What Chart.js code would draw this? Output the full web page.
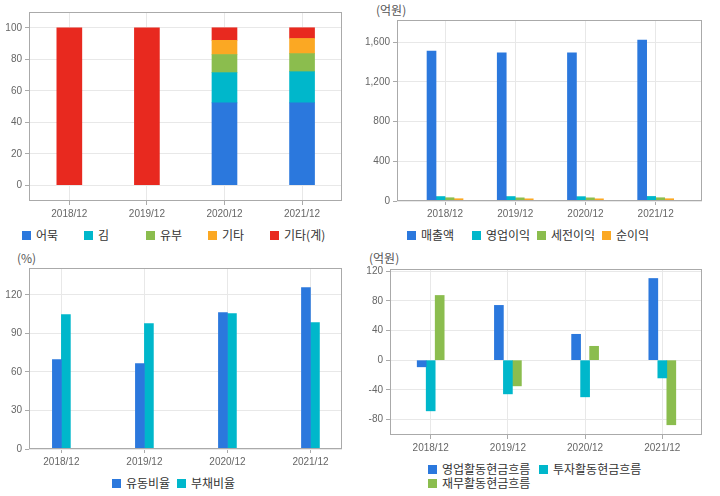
<!DOCTYPE html>
<html>
<head>
<meta charset="utf-8">
<script src="https://cdn.jsdelivr.net/npm/chart.js@4/dist/chart.umd.min.js"></script>
<style>
	body { margin: 0; background: #fff; width: 720px; height: 496px; position: relative; overflow: hidden; font-family: 'Noto Sans CJK KR', sans-serif; }
	canvas { position: absolute; }
	.unit { position: absolute; font-size: 12px; color: #555; line-height: 14px; }
	.legend { position: absolute; display: flex; flex-wrap: wrap; font-size: 12px; color: #333; line-height: 14px; }
	.legend span.item { display: flex; align-items: center; white-space: nowrap; }
	.legend i { display: inline-block; width: 9px; height: 9px; margin-right: 5px; }
</style>
</head>
<body>
<canvas id="mixChart" width="360" height="225" style="left:0;top:0"></canvas>
<div class="legend" id="mixLegend" style="left:22px;top:228px"></div>

<div class="unit" style="left:376px;top:3px">(억원)</div>
<canvas id="incomeChart" width="360" height="225" style="left:360px;top:0"></canvas>
<div class="legend" id="incomeLegend" style="left:407px;top:228px"></div>

<div class="unit" style="left:17px;top:251px">(%)</div>
<canvas id="ratioChart" width="360" height="225" style="left:0;top:248px"></canvas>
<div class="legend" id="ratioLegend" style="left:112px;top:476px"></div>

<div class="unit" style="left:369px;top:251px">(억원)</div>
<canvas id="cashChart" width="360" height="210" style="left:360px;top:248px"></canvas>
<div class="legend" id="cashLegend" style="left:428px;top:462px;width:224px"></div>

<script>
const periods = ['2018/12', '2019/12', '2020/12', '2021/12'];

// 제품별 매출 비중 (%)
const fishCake = [null, null, 52.3, 52.3];
const laver = [null, null, 19.2, 19.8];
const friedTofu = [null, null, 11.5, 11.5];
const others = [null, null, 9.0, 9.6];
const othersTotal = [100, 100, 8.0, 6.8];
const mixTicks = [0, 20, 40, 60, 80, 100];

// 손익 (억원)
const sales = [1512, 1495, 1495, 1623];
const operatingProfit = [45, 45, 44, 46];
const pretaxProfit = [33, 32, 32, 33];
const netProfit = [23, 22, 22, 23];
const incomeTicks = [0, 400, 800, 1200, 1600];

// 안정성 (%)
const currentRatio = [69.6, 66.5, 106.2, 125.8];
const debtRatio = [104.7, 97.7, 105.5, 98.5];
const ratioTicks = [0, 30, 60, 90, 120];

// 현금흐름 (억원)
const operatingCash = [-9, 73.9, 34.9, 110.2];
const investingCash = [-68.4, -45.5, -49.5, -24];
const financingCash = [87.3, -34.7, 18.7, -87.2];
const cashTicks = [-80, -40, 0, 40, 80, 120];

const colors = {
	blue: '#2b78dd',
	cyan: '#00b7cb',
	green: '#8bbd4e',
	orange: '#fba823',
	red: '#e8291f',
};

const tickFont = { family: "'Liberation Sans', Arial, sans-serif", size: 10 };
const tickColor = '#666';

const boxBorder = {
	id: 'boxBorder',
	afterDatasetsDraw(chart) {
		const { ctx, chartArea: a } = chart;
		ctx.save();
		ctx.strokeStyle = '#aaa';
		ctx.lineWidth = 1;
		ctx.strokeRect(Math.round(a.left) + 0.5, Math.round(a.top) + 0.5, Math.round(a.right - a.left) - 1, Math.round(a.bottom - a.top) - 1);
		ctx.restore();
	},
};

const toPoints = (values) => values.map((y, x) => ({ x, y }));

const renderLegend = (id, items, itemWidth) => {
	document.getElementById(id).innerHTML = items.map(([label, color]) => `
		<span class="item" style="width:${itemWidth}px"><i style="background:${color}"></i>${label}</span>
	`).join('');
};

const buildChart = (canvasId, datasets, opts) => {
	return new Chart(document.getElementById(canvasId), {
		type: 'bar',
		data: {
			datasets: datasets.map((set) => ({ ...set, data: toPoints(set.data) })),
		},
		plugins: [boxBorder],
		options: {
			responsive: false,
			animation: false,
			layout: { padding: { top: opts.top, right: 18, left: 0, bottom: 0 } },
			plugins: { legend: { display: false }, tooltip: { enabled: false } },
			datasets: { bar: { barThickness: opts.thickness, borderWidth: 0 } },
			scales: {
				x: {
					type: 'linear',
					stacked: !!opts.stacked,
					offset: false,
					min: opts.xMin,
					max: opts.xMax,
					afterFit: (scale) => { scale.height = opts.xHeight; },
					afterBuildTicks: (scale) => { scale.ticks = periods.map((_, value) => ({ value })); },
					grid: { offset: false, color: '#e8e8e8', tickColor: '#aaa', tickLength: 4 },
					border: { display: false },
					ticks: { font: tickFont, color: tickColor, padding: 3, maxRotation: 0, callback: (value) => periods[value] },
				},
				y: {
					stacked: !!opts.stacked,
					min: opts.min,
					max: opts.max,
					afterFit: (scale) => { scale.width = opts.yWidth; },
					afterBuildTicks: (scale) => { scale.ticks = opts.ticks.map((value) => ({ value })); },
					grid: { color: '#e8e8e8', tickColor: '#aaa', tickLength: 4 },
					border: { display: false },
					ticks: { font: tickFont, color: tickColor, padding: 3 },
				},
			},
		},
	});
};

buildChart('mixChart', [
	{ label: '어묵', data: fishCake, backgroundColor: colors.blue },
	{ label: '김', data: laver, backgroundColor: colors.cyan },
	{ label: '유부', data: friedTofu, backgroundColor: colors.green },
	{ label: '기타', data: others, backgroundColor: colors.orange },
	{ label: '기타(계)', data: othersTotal, backgroundColor: colors.red },
], { stacked: true, min: -10, max: 110, ticks: mixTicks, top: 12, yWidth: 29, xHeight: 24, thickness: 25, xMin: -0.52, xMax: 3.515 });

buildChart('incomeChart', [
	{ label: '매출액', data: sales, backgroundColor: colors.blue },
	{ label: '영업이익', data: operatingProfit, backgroundColor: colors.cyan },
	{ label: '세전이익', data: pretaxProfit, backgroundColor: colors.green },
	{ label: '순이익', data: netProfit, backgroundColor: colors.orange },
], { min: 0, max: 1825, ticks: incomeTicks, top: 20, yWidth: 37, xHeight: 24, thickness: 9, xMin: -0.684, xMax: 3.66 });

buildChart('ratioChart', [
	{ label: '유동비율', data: currentRatio, backgroundColor: colors.blue },
	{ label: '부채비율', data: debtRatio, backgroundColor: colors.cyan },
], { min: 0, max: 141, ticks: ratioTicks, top: 20, yWidth: 29, xHeight: 24, thickness: 9, xMin: -0.39, xMax: 3.38 });

buildChart('cashChart', [
	{ label: '영업활동현금흐름', data: operatingCash, backgroundColor: colors.blue },
	{ label: '투자활동현금흐름', data: investingCash, backgroundColor: colors.cyan },
	{ label: '재무활동현금흐름', data: financingCash, backgroundColor: colors.green },
], { min: -101, max: 123, ticks: cashTicks, top: 21, yWidth: 30, xHeight: 23, thickness: 9, xMin: -0.527, xMax: 3.514 });

renderLegend('mixLegend', [['어묵', colors.blue], ['김', colors.cyan], ['유부', colors.green], ['기타', colors.orange], ['기타(계)', colors.red]], 62);
renderLegend('incomeLegend', [['매출액', colors.blue], ['영업이익', colors.cyan], ['세전이익', colors.green], ['순이익', colors.orange]], 65);
renderLegend('ratioLegend', [['유동비율', colors.blue], ['부채비율', colors.cyan]], 65);
renderLegend('cashLegend', [['영업활동현금흐름', colors.blue], ['투자활동현금흐름', colors.cyan], ['재무활동현금흐름', colors.green]], 111);
</script>
</body>
</html>
